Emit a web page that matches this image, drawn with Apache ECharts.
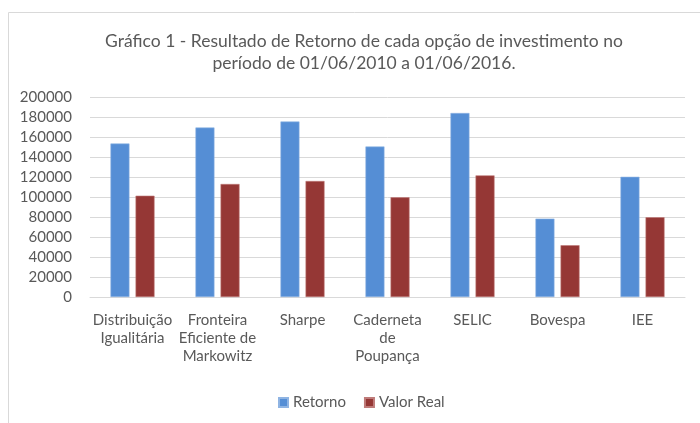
<!DOCTYPE html>
<html>
<head>
<meta charset="utf-8">
<script src="https://cdn.jsdelivr.net/npm/echarts@6/dist/echarts.min.js"></script>
<style>
  html, body { margin: 0; padding: 0; background: #fff; }
  #chart { width: 700px; height: 423px; }
</style>
</head>
<body>
<div id="chart"></div>
<script>
// categories (line breaks as in the original axis labels)
var categories = [
  'Distribuição\nIgualitária',
  'Fronteira\nEficiente de\nMarkowitz',
  'Sharpe',
  'Caderneta\nde\nPoupança',
  'SELIC',
  'Bovespa',
  'IEE'
]
var seriesNames = ['Retorno', 'Valor Real']
var retorno = [153500, 169500, 175500, 150500, 184000, 78400, 120200]
var valorReal = [101300, 113000, 116000, 99700, 121600, 51800, 79800]

var titleText = 'Gráfico 1 - Resultado de Retorno de cada opção de investimento no\nperíodo de 01/06/2010 a 01/06/2016.'
var textColor = '#595959'
var fontFamily = 'Lato'

var chart = echarts.init(document.getElementById('chart'))

chart.setOption({
  animation: false,
  textStyle: { fontFamily: fontFamily },
  // light chart-area frame, only the top and left edges show
  graphic: [{
    type: 'rect',
    shape: { x: 8.5, y: 12.5, width: 720, height: 440 },
    style: { fill: 'none', stroke: '#d9d9d9', lineWidth: 1 },
    silent: true
  }],
  title: {
    text: titleText,
    left: 359,
    textAlign: 'center',
    top: 25,
    textStyle: {
      color: textColor,
      fontFamily: fontFamily,
      fontSize: 17.5,
      fontWeight: 'normal',
      lineHeight: 22
    }
  },
  legend: {
    data: seriesNames,
    left: 273,
    top: 390,
    itemWidth: 9,
    itemHeight: 9,
    itemGap: 18,
    icon: 'rect',
    textStyle: { color: textColor, fontSize: 15, fontFamily: fontFamily }
  },
  grid: {
    left: 90,
    right: 15,
    top: 97,
    bottom: 126
  },
  xAxis: {
    type: 'category',
    data: categories,
    axisTick: { show: false },
    axisLine: { lineStyle: { color: '#d9d9d9' } },
    axisLabel: {
      color: textColor,
      fontSize: 15,
      lineHeight: 18,
      margin: 14,
      interval: 0
    }
  },
  yAxis: {
    type: 'value',
    min: 0,
    max: 200000,
    interval: 20000,
    axisLine: { show: false },
    axisTick: { show: false },
    splitLine: { lineStyle: { color: '#d9d9d9' } },
    axisLabel: {
      color: textColor,
      fontSize: 15,
      margin: 18,
      formatter: function (v) { return String(v) }
    }
  },
  series: [
    {
      name: seriesNames[0],
      type: 'bar',
      data: retorno,
      barWidth: 19,
      barGap: '32%',
      itemStyle: { color: '#558ed5', borderColor: '#8fb4e3', borderWidth: 0.6 }
    },
    {
      name: seriesNames[1],
      type: 'bar',
      data: valorReal,
      barWidth: 19,
      barGap: '32%',
      itemStyle: { color: '#953735', borderColor: '#bf7b79', borderWidth: 0.6 }
    }
  ]
})
</script>
</body>
</html>
